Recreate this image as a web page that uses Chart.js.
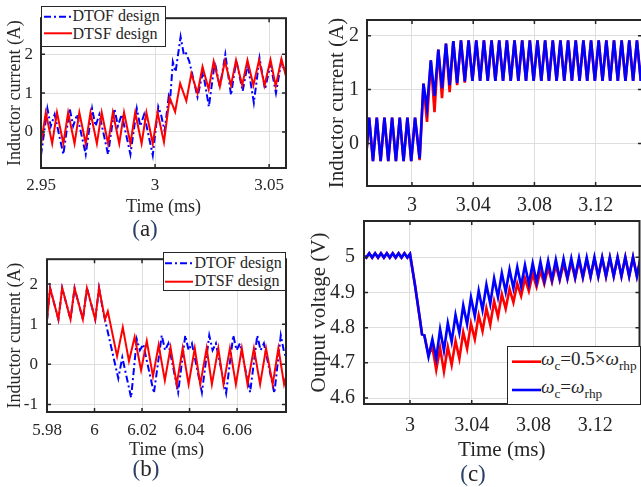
<!DOCTYPE html>
<html>
<head>
<meta charset="utf-8">
<script src="https://cdn.jsdelivr.net/npm/chart.js@4.4.1/dist/chart.umd.min.js"></script>
<style>
  html, body { margin: 0; padding: 0; background: #fff; }
  body { position: relative; width: 641px; height: 487px; overflow: hidden;
         font-family: "Liberation Serif", serif; color: #262626; }
  canvas { position: absolute; }
  .lg { position: absolute; background: #fff; border: 1.5px solid #262626; box-sizing: border-box; }
  .lg svg { position: absolute; left: -1.5px; top: -1.5px; }
  .lg span { position: absolute; white-space: nowrap; line-height: 1; }
  .lg sub { font-size: 0.7em; vertical-align: -0.35em; line-height: 0; }
  .tag { position: absolute; font-size: 23px; line-height: 1; transform: translate(-50%, -50%); }
  .tag b { font-weight: normal; color: #2a4068; }
</style>
</head>
<body>
<canvas id="ca" width="300" height="220" style="left:0;top:0"></canvas>
<canvas id="cb" width="300" height="230" style="left:0;top:240px"></canvas>
<canvas id="cc" width="323" height="220" style="left:320px;top:0"></canvas>
<canvas id="cd" width="343" height="287" style="left:300px;top:200px"></canvas>

<div class="lg" style="left:41px;top:6px;width:125px;height:41px">
  <svg width="125" height="41"><line x1="3" y1="10.7" x2="31" y2="10.7" stroke="#00f" stroke-width="2" stroke-dasharray="7 3 2 3"/><line x1="3" y1="27.3" x2="31" y2="27.3" stroke="#f00" stroke-width="2"/></svg>
  <span style="left:30.5px;top:1px;font-size:16px">DTOF design</span>
  <span style="left:30.5px;top:19.4px;font-size:16px">DTSF design</span>
</div>

<div class="lg" style="left:163px;top:252px;width:123px;height:39px">
  <svg width="123" height="39"><line x1="2" y1="11.3" x2="30" y2="11.3" stroke="#00f" stroke-width="2" stroke-dasharray="7 3 2 3"/><line x1="2" y1="29.7" x2="30" y2="29.7" stroke="#f00" stroke-width="2"/></svg>
  <span style="left:30.5px;top:1.7px;font-size:16px">DTOF design</span>
  <span style="left:30.5px;top:20.1px;font-size:16px">DTSF design</span>
</div>

<div class="lg" style="left:507px;top:346px;width:134px;height:59px">
  <svg width="134" height="59"><line x1="5" y1="15.7" x2="34" y2="15.7" stroke="#f00" stroke-width="2.6"/><line x1="5" y1="44" x2="34" y2="44" stroke="#00f" stroke-width="2.6"/></svg>
  <span style="left:33px;top:2px;font-size:19px"><i>ω</i><sub>c</sub>=0.5×<i>ω</i><sub>rhp</sub></span>
  <span style="left:33px;top:29.5px;font-size:19px"><i>ω</i><sub>c</sub>=<i>ω</i><sub>rhp</sub></span>
</div>

<div class="tag" style="left:145px;top:228px"><b>(</b>a<b>)</b></div>
<div class="tag" style="left:146px;top:468px"><b>(</b>b<b>)</b></div>
<div class="tag" style="left:473px;top:473px"><b>(</b>c<b>)</b></div>

<script>
// (a) load step up, 2.95 - 3.057 ms
var aRedT = [2.9500, 2.9521, 2.9549, 2.9570, 2.9598, 2.9619, 2.9647, 2.9668, 2.9696, 2.9717, 2.9745, 2.9766,
  2.9794, 2.9815, 2.9843, 2.9864, 2.9892, 2.9913, 2.9941, 2.9962, 2.9990, 3.0011, 3.0039,
  3.0064, 3.0088, 3.0110, 3.0137, 3.0159, 3.0186, 3.0208, 3.0235, 3.0257, 3.0284, 3.0306, 3.0333,
  3.0355, 3.0382, 3.0405, 3.0431, 3.0456, 3.0480, 3.0506, 3.0529, 3.0554, 3.0580];
var aRedV = [-0.32, 0.50, -0.30, 0.50, -0.30, 0.50, -0.30, 0.50, -0.30, 0.50, -0.30, 0.50,
  -0.30, 0.50, -0.30, 0.50, -0.30, 0.50, -0.30, 0.50, -0.30, 0.50, -0.26,
  0.88, 0.52, 1.25, 0.80, 1.50, 1.00, 1.68, 1.10, 1.82, 1.17, 1.82, 1.20,
  1.85, 1.20, 1.85, 1.20, 1.85, 1.20, 1.86, 1.18, 1.88, 1.30];
var aBlueT = [2.9500, 2.9528, 2.9543, 2.9560, 2.9598, 2.9626, 2.9641, 2.9658, 2.9696, 2.9724, 2.9739, 2.9756,
  2.9794, 2.9822, 2.9837, 2.9854, 2.9892, 2.9920, 2.9935, 2.9952, 2.9990,
  3.0014, 3.0026, 3.0042, 3.0060, 3.0066, 3.0078, 3.0090, 3.0112, 3.0126, 3.0134, 3.0150, 3.0186,
  3.0210, 3.0236, 3.0262, 3.0284, 3.0308, 3.0333, 3.0356, 3.0384, 3.0406, 3.0433, 3.0458, 3.0482,
  3.0506, 3.0530, 3.0553, 3.0580];
var aBlueV = [-0.60, 0.60, 0.15, 0.45, -0.58, 0.60, 0.15, 0.45, -0.58, 0.60, 0.15, 0.45,
  -0.58, 0.60, 0.15, 0.45, -0.58, 0.60, 0.15, 0.45, -0.60,
  0.65, 0.45, 0.02, 0.92, 0.82, 1.80, 1.55, 2.45, 2.00, 2.05, 1.82, 0.90,
  1.55, 0.65, 1.80, 1.15, 2.00, 0.95, 1.85, 1.05, 1.75, 0.75, 1.90, 1.10,
  1.75, 1.00, 1.80, 1.40];

// (b) load step down, 5.98 - 6.08 ms
var bRedT = [5.9800, 5.9813, 5.9848, 5.9864, 5.9899, 5.9916, 5.9951, 5.9968, 6.0003, 6.0019, 6.0044, 6.0056,
  6.0095, 6.0119, 6.0145, 6.0169, 6.0196, 6.0220, 6.0246, 6.0270, 6.0296, 6.0320, 6.0346,
  6.0371, 6.0396, 6.0422, 6.0445, 6.0472, 6.0494, 6.0521, 6.0543, 6.0570, 6.0595, 6.0620, 6.0644,
  6.0671, 6.0697, 6.0722, 6.0750, 6.0774, 6.0798, 6.0815];
var bRedV = [1.10, 1.90, 1.12, 1.90, 1.12, 1.90, 1.12, 1.90, 1.12, 1.90, 1.12, 1.32,
  0.20, 0.92, 0.08, 0.68, -0.15, 0.58, -0.30, 0.48, -0.40, 0.42, -0.50,
  0.40, -0.50, 0.40, -0.50, 0.40, -0.50, 0.40, -0.50, 0.40, -0.50, 0.40, -0.50,
  0.40, -0.50, 0.40, -0.50, 0.40, -0.50, -0.10];
var bBlueT = [5.9800, 5.9813, 5.9848, 5.9864, 5.9899, 5.9916, 5.9951, 5.9968, 6.0003, 6.0019,
  6.0037, 6.0100, 6.0117, 6.0154, 6.0178, 6.0191, 6.0205, 6.0250, 6.0283, 6.0297, 6.0311, 6.0352,
  6.0382, 6.0396, 6.0410, 6.0452, 6.0483, 6.0497, 6.0511, 6.0554, 6.0584, 6.0598, 6.0612, 6.0655,
  6.0685, 6.0699, 6.0713, 6.0757, 6.0784, 6.0798, 6.0812];
var bBlueV = [1.10, 1.90, 1.12, 1.90, 1.12, 1.90, 1.12, 1.90, 1.12, 1.90,
  1.30, -0.35, 0.17, -0.83, 0.62, 0.35, 0.50, -0.72, 0.72, 0.35, 0.52, -0.70,
  0.72, 0.35, 0.52, -0.70, 0.72, 0.35, 0.52, -0.72, 0.72, 0.35, 0.52, -0.70,
  0.72, 0.35, 0.52, -0.72, 0.72, 0.30, 0.10];

// (c) top: inductor current, two crossover choices
var cTopT = [2.9700, 2.9720, 2.9745, 2.9770, 2.9795, 2.9820, 2.9845, 2.9870, 2.9895, 2.9920, 2.9945, 2.9970, 2.9995, 3.0020,
  3.0050, 3.0075, 3.0098, 3.0123, 3.0147, 3.0172, 3.0196, 3.0222, 3.0246, 3.0270, 3.0295, 3.0320, 3.0345,
  3.0370, 3.0395, 3.0420, 3.0445, 3.0470, 3.0495, 3.0520, 3.0545, 3.0570, 3.0595, 3.0620, 3.0645,
  3.0670, 3.0695, 3.0720, 3.0745, 3.0770, 3.0795, 3.0820, 3.0845, 3.0870, 3.0895, 3.0920, 3.0945,
  3.0970, 3.0995, 3.1020, 3.1045, 3.1070, 3.1095, 3.1120, 3.1145, 3.1170, 3.1195, 3.1220, 3.1245,
  3.1270, 3.1295, 3.1320, 3.1345, 3.1370, 3.1395, 3.1420, 3.1445, 3.1470, 3.1495, 3.1520];
var cTopBlue = [-0.25, 0.48, -0.33, 0.48, -0.33, 0.48, -0.33, 0.48, -0.33, 0.48, -0.33, 0.48, -0.33, 0.48,
  -0.28, 1.11, 0.66, 1.54, 0.88, 1.74, 1.02, 1.85, 1.08, 1.90, 1.12, 1.91, 1.15,
  1.91, 1.16, 1.91, 1.16, 1.91, 1.16, 1.91, 1.16, 1.91, 1.16, 1.91, 1.16,
  1.91, 1.16, 1.91, 1.16, 1.91, 1.16, 1.91, 1.16, 1.91, 1.16, 1.91, 1.16,
  1.91, 1.16, 1.91, 1.16, 1.91, 1.16, 1.91, 1.16, 1.91, 1.16, 1.91, 1.16,
  1.91, 1.16, 1.91, 1.16, 1.91, 1.16, 1.91, 1.16, 1.91, 1.16, 1.91];
var cTopRed = [-0.25, 0.48, -0.33, 0.48, -0.33, 0.48, -0.33, 0.48, -0.33, 0.48, -0.33, 0.48, -0.33, 0.48,
  -0.31, 1.11, 0.40, 1.54, 0.58, 1.74, 0.84, 1.85, 0.95, 1.90, 1.08, 1.91, 1.13,
  1.91, 1.16, 1.91, 1.16, 1.91, 1.16, 1.91, 1.16, 1.91, 1.16, 1.91, 1.16,
  1.91, 1.16, 1.91, 1.16, 1.91, 1.16, 1.91, 1.16, 1.91, 1.16, 1.91, 1.16,
  1.91, 1.16, 1.91, 1.16, 1.91, 1.16, 1.91, 1.16, 1.91, 1.16, 1.91, 1.16,
  1.91, 1.16, 1.91, 1.16, 1.91, 1.16, 1.91, 1.16, 1.91, 1.16, 1.91];

// (c) bottom: output voltage
var cBotT = [2.9700, 2.9717, 2.9736, 2.9755, 2.9774, 2.9793, 2.9812, 2.9831, 2.9850, 2.9869, 2.9888, 2.9907,
  2.9926, 2.9945, 2.9964, 2.9983, 3.0000, 3.0032, 3.0065, 3.0078, 3.0093,
  3.0120, 3.0145, 3.0170, 3.0195, 3.0220, 3.0245, 3.0270, 3.0295, 3.0320, 3.0345, 3.0370, 3.0395,
  3.0420, 3.0445, 3.0470, 3.0495, 3.0520, 3.0545, 3.0570, 3.0595, 3.0620, 3.0645, 3.0670, 3.0695,
  3.0720, 3.0745, 3.0770, 3.0795, 3.0820, 3.0845, 3.0870, 3.0895, 3.0920, 3.0945, 3.0970, 3.0995,
  3.1020, 3.1045, 3.1070, 3.1095, 3.1120, 3.1145, 3.1170, 3.1195, 3.1220, 3.1245, 3.1270, 3.1295,
  3.1320, 3.1345, 3.1370, 3.1395, 3.1420, 3.1445, 3.1470, 3.1495];
var cBotBlue = [5.004, 4.999, 5.011, 4.999, 5.011, 4.999, 5.011, 4.999, 5.011, 4.999, 5.011, 4.999,
  5.011, 4.999, 5.011, 4.999, 5.009, 4.922, 4.822, 4.781, 4.778,
  4.717, 4.767, 4.712, 4.795, 4.735, 4.813, 4.760, 4.836, 4.785, 4.863, 4.810, 4.886,
  4.832, 4.905, 4.850, 4.922, 4.868, 4.940, 4.887, 4.955, 4.902, 4.965, 4.912, 4.972,
  4.918, 4.978, 4.924, 4.983, 4.929, 4.987, 4.933, 4.990, 4.936, 4.993, 4.939, 4.995,
  4.941, 4.997, 4.943, 4.998, 4.944, 4.999, 4.945, 5.000, 4.945, 5.000, 4.946, 5.000,
  4.946, 5.000, 4.946, 5.000, 4.946, 5.000, 4.946, 5.000];
var cBotRed = [5.004, 4.999, 5.011, 4.999, 5.011, 4.999, 5.011, 4.999, 5.011, 4.999, 5.011, 4.999,
  5.011, 4.999, 5.011, 4.999, 5.009, 4.922, 4.822, 4.781, 4.778,
  4.722, 4.745, 4.680, 4.742, 4.675, 4.745, 4.694, 4.762, 4.712, 4.787, 4.740, 4.812,
  4.767, 4.835, 4.790, 4.855, 4.808, 4.875, 4.831, 4.895, 4.854, 4.910, 4.872, 4.925,
  4.890, 4.940, 4.904, 4.952, 4.916, 4.962, 4.924, 4.970, 4.930, 4.977, 4.935, 4.982,
  4.938, 4.986, 4.940, 4.990, 4.942, 4.993, 4.944, 4.995, 4.945, 4.997, 4.945, 4.998,
  4.946, 4.999, 4.946, 5.000, 4.946, 5.000, 4.946, 5.000];

var ink = '#262626';
var gridCol = '#dedede';
var RED = '#ff0000', BLUE = '#0000ff';
var dashDot = [7, 3, 2, 3];

Chart.defaults.font.family = "'Liberation Serif', serif";

function pts(ts, vs) {
  return ts.map(function (t, i) { return {x: t, y: vs[i]}; });
}

// matlab style box with inward ticks
var boxPlugin = {
  id: 'box',
  afterDatasetsDraw: function (chart) {
    var ctx = chart.ctx, a = chart.chartArea, sx = chart.scales.x, sy = chart.scales.y;
    ctx.save();
    ctx.strokeStyle = ink;
    ctx.lineWidth = 1.5;
    ctx.beginPath();
    sx.ticks.forEach(function (t) {
      var p = sx.getPixelForValue(t.value);
      ctx.moveTo(p, a.bottom); ctx.lineTo(p, a.bottom - 4);
      ctx.moveTo(p, a.top); ctx.lineTo(p, a.top + 4);
    });
    sy.ticks.forEach(function (t) {
      var p = sy.getPixelForValue(t.value);
      ctx.moveTo(a.left, p); ctx.lineTo(a.left + 4, p);
      ctx.moveTo(a.right, p); ctx.lineTo(a.right - 4, p);
    });
    ctx.stroke();
    ctx.lineWidth = 2;
    ctx.strokeRect(a.left, a.top, a.right - a.left, a.bottom - a.top);
    ctx.restore();
  }
};

function fixTicks(list) {
  return function (s) { s.ticks = list.map(function (v) { return {value: v}; }); };
}

function plot(id, o) {
  new Chart(document.getElementById(id), {
    type: 'line',
    data: { datasets: o.sets },
    options: {
      responsive: false,
      animation: false,
      devicePixelRatio: 1,
      layout: { padding: o.pad },
      plugins: { legend: { display: false }, tooltip: { enabled: false } },
      elements: { point: { radius: 0 }, line: { tension: 0 } },
      scales: {
        x: {
          type: 'linear', min: o.xMin, max: o.xMax,
          afterBuildTicks: fixTicks(o.xTicks),
          afterFit: function (s) { s.height = o.xH; },
          grid: { color: gridCol, drawTicks: false },
          border: { display: false },
          ticks: { autoSkip: false, maxRotation: 0, padding: o.xPad, color: ink,
                   font: { size: o.tick }, callback: function (v) { return String(v); } },
          title: { display: !!o.xTitle, text: o.xTitle || '', color: ink,
                   font: { size: o.ttl }, padding: { top: 0, bottom: o.xTitlePad || 0 } }
        },
        y: {
          type: 'linear', min: o.yMin, max: o.yMax,
          afterBuildTicks: fixTicks(o.yTicks),
          afterFit: function (s) { s.width = o.yW; },
          grid: { color: gridCol, drawTicks: false },
          border: { display: false },
          ticks: { autoSkip: false, padding: o.yPad, color: ink,
                   font: { size: o.tick }, callback: function (v) { return String(v); } },
          title: { display: true, text: o.yTitle, color: ink,
                   font: { size: o.ttl }, padding: { top: o.yTitlePad, bottom: 0 } }
        }
      }
    },
    plugins: [boxPlugin]
  });
}

plot('ca', {
  sets: [
    { label: 'DTSF design', data: pts(aRedT, aRedV), borderColor: RED, borderWidth: 2 },
    { label: 'DTOF design', data: pts(aBlueT, aBlueV), borderColor: BLUE, borderWidth: 2, borderDash: dashDot }
  ],
  pad: { left: 0, top: 6, right: 14, bottom: 0 },
  xMin: 2.95, xMax: 3.0574, xTicks: [2.95, 3, 3.05], xH: 52, xPad: 7,
  yMin: -0.93, yMax: 2.93, yTicks: [0, 1, 2], yW: 41, yPad: 8,
  tick: 17, ttl: 18, xTitle: 'Time (ms)', xTitlePad: 2,
  yTitle: 'Inductor current (A)', yTitlePad: 4
});

plot('cb', {
  sets: [
    { label: 'DTSF design', data: pts(bRedT, bRedV), borderColor: RED, borderWidth: 2 },
    { label: 'DTOF design', data: pts(bBlueT, bBlueV), borderColor: BLUE, borderWidth: 2, borderDash: dashDot }
  ],
  pad: { left: 0, top: 12, right: 14, bottom: 0 },
  xMin: 5.98, xMax: 6.0806, xTicks: [5.98, 6, 6.02, 6.04, 6.06], xH: 58, xPad: 8,
  yMin: -1.19, yMax: 2.62, yTicks: [-1, 0, 1, 2], yW: 47, yPad: 9,
  tick: 17, ttl: 18, xTitle: 'Time (ms)', xTitlePad: 9,
  yTitle: 'Inductor current (A)', yTitlePad: 4
});

plot('cc', {
  sets: [
    { label: 'wc=wrhp', data: pts(cTopT, cTopBlue), borderColor: BLUE, borderWidth: 2.6 },
    { label: 'wc=0.5wrhp', data: pts(cTopT, cTopRed), borderColor: RED, borderWidth: 2.6 }
  ],
  pad: { left: 0, top: 6, right: 1, bottom: 0 },
  xMin: 2.9706, xMax: 3.1503, xTicks: [3, 3.04, 3.08, 3.12], xH: 34, xPad: 8,
  yMin: -0.79, yMax: 2.29, yTicks: [0, 1, 2], yW: 47, yPad: 8,
  tick: 20, ttl: 21, xTitle: '', yTitle: 'Inductor current (A)', yTitlePad: 5
});

plot('cd', {
  sets: [
    { label: 'wc=wrhp', data: pts(cBotT, cBotBlue), borderColor: BLUE, borderWidth: 2.6 },
    { label: 'wc=0.5wrhp', data: pts(cBotT, cBotRed), borderColor: RED, borderWidth: 2.6 }
  ],
  pad: { left: 0, top: 14, right: 3.5, bottom: 0 },
  xMin: 2.9702, xMax: 3.1487, xTicks: [3, 3.04, 3.08, 3.12], xH: 83, xPad: 10,
  yMin: 4.583, yMax: 5.103, yTicks: [4.6, 4.7, 4.8, 4.9, 5], yW: 64, yPad: 9,
  tick: 20, ttl: 21, xTitle: 'Time (ms)', xTitlePad: 24,
  yTitle: 'Output voltage (V)', yTitlePad: 7
});
</script>
</body>
</html>
